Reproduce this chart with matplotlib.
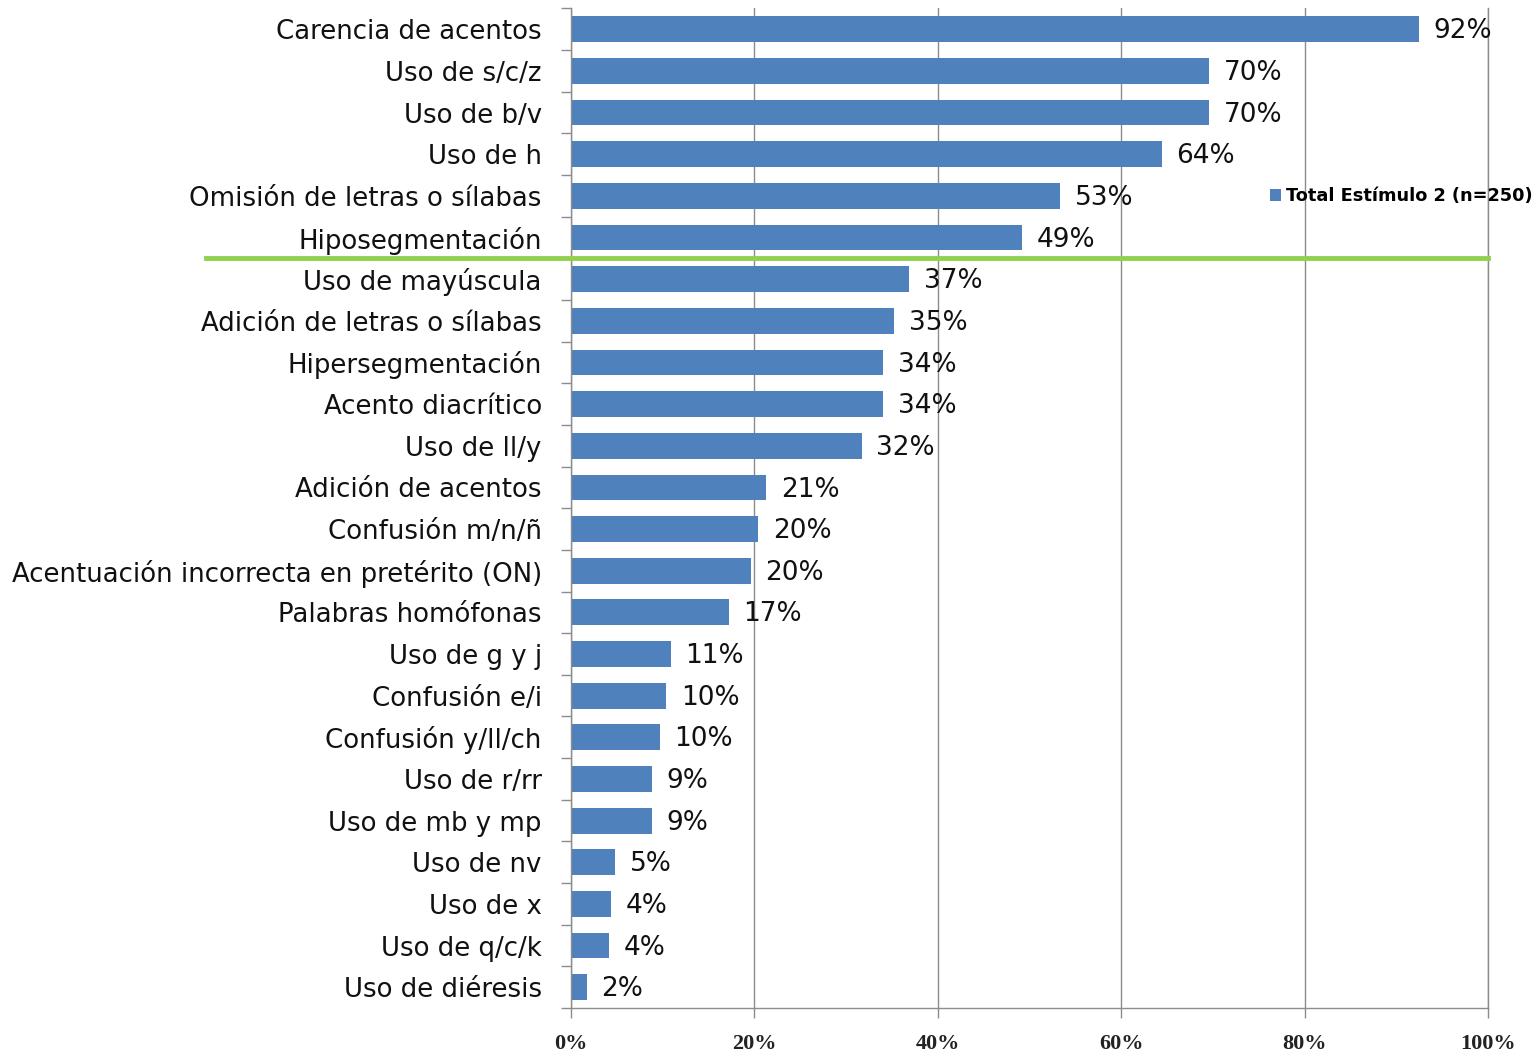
import numpy as np
import matplotlib.pyplot as plt
from matplotlib.ticker import FixedLocator

categories = ['Carencia de acentos', 'Uso de s/c/z', 'Uso de b/v', 'Uso de h',
              'Omisión de letras o sílabas', 'Hiposegmentación', 'Uso de mayúscula',
              'Adición de letras o sílabas', 'Hipersegmentación', 'Acento diacrítico',
              'Uso de ll/y', 'Adición de acentos', 'Confusión m/n/ñ',
              'Acentuación incorrecta en pretérito (ON)', 'Palabras homófonas',
              'Uso de g y j', 'Confusión e/i', 'Confusión y/ll/ch', 'Uso de r/rr',
              'Uso de mb y mp', 'Uso de nv', 'Uso de x', 'Uso de q/c/k', 'Uso de diéresis']
values = [92.4, 69.6, 69.6, 64.4, 53.3, 49.2, 36.9, 35.2, 34.0, 34.0, 31.7, 21.3,
          20.4, 19.6, 17.2, 10.9, 10.4, 9.7, 8.8, 8.8, 4.8, 4.4, 4.1, 1.7]
labels = [f'{round(v)}%' for v in values]
series_name = 'Total Estímulo 2 (n=250)'
xticks = [0, 20, 40, 60, 80, 100]

blue = '#4F81BD'
grey = '#8c8c8c'
fig = plt.figure(figsize=(15.39, 10.55), dpi=100)
ax = fig.add_axes([0.371, 0.0445, 0.596, 0.9475])

y = np.arange(len(categories))
bars = ax.barh(y, values, height=0.62, color=blue, label=series_name, zorder=2)
for yi, v, lab in zip(y, values, labels):
    ax.text(v + 1.6, yi + 0.05, lab, va='center', ha='left', fontsize=19,
            color='#111111', zorder=3)

ax.set_ylim(len(categories) - 0.5, -0.5)
ax.set_xlim(0, 100)
ax.set_yticks(y)
ax.set_yticklabels(categories, fontsize=18.7, color='#111111')
ax.yaxis.set_major_locator(FixedLocator(y))
ax.set_yticks(np.arange(len(categories) + 1) - 0.5, minor=True)
ax.tick_params(axis='y', which='major', length=0, pad=21)
ax.tick_params(axis='y', which='minor', length=7, color=grey, width=1)

ax.set_xticks(xticks)
ax.set_xticklabels([f'{t}%' for t in xticks], fontsize=16, fontweight='bold',
                   family='Liberation Serif', color='#222222')
ax.tick_params(axis='x', length=7, color=grey, width=1, pad=12)
ax.grid(axis='x', color=grey, linewidth=1, zorder=1)
ax.axvline(100, color=grey, linewidth=1, clip_on=False, zorder=1)
ax.set_axisbelow(True)

for s in ['top', 'right']:
    ax.spines[s].set_visible(False)
for s in ['left', 'bottom']:
    ax.spines[s].set_color(grey)
    ax.spines[s].set_linewidth(1)

# separator line between top six and the rest
ax.axhline(5.5, xmin=-0.398, xmax=1.0, color='#92D050', linewidth=3.5,
           clip_on=False, zorder=4)

fig.legend(handles=[bars], labels=[series_name], loc='center left',
           bbox_to_anchor=(0.815, 0.814), frameon=False,
           handlelength=0.6, handleheight=0.6, handletextpad=0.3,
           prop={'weight': 'bold', 'size': 12.8})

fig.savefig('out.png', dpi=100)
